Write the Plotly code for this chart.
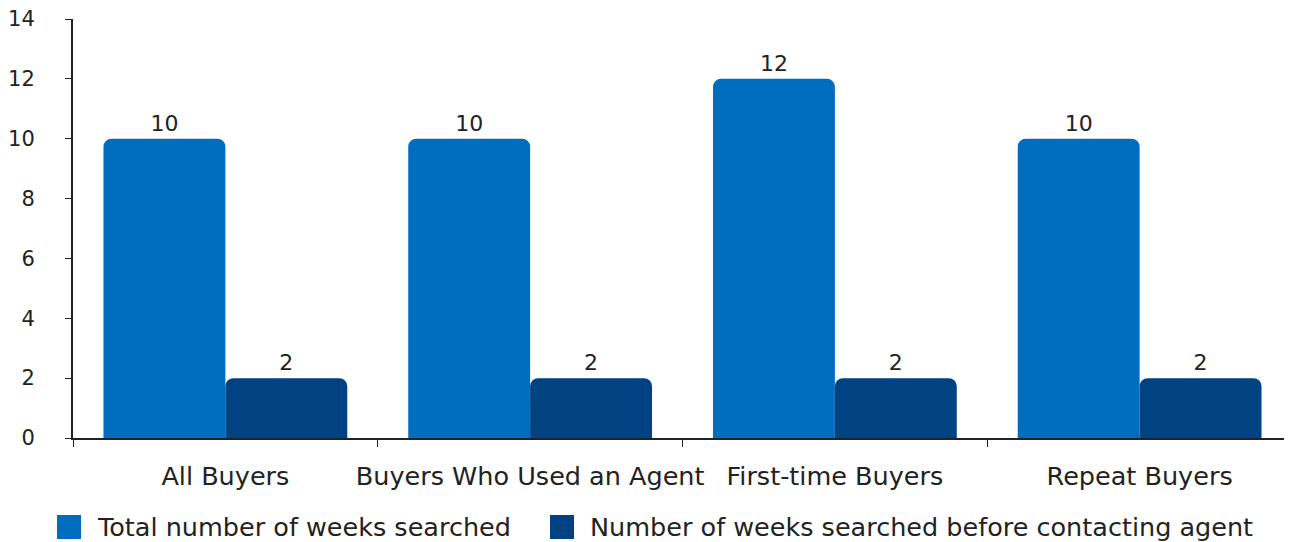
import plotly.graph_objects as go

categories = ["All Buyers", "Buyers Who Used an Agent", "First-time Buyers", "Repeat Buyers"]
total_weeks = [10, 10, 12, 10]
before_agent = [2, 2, 2, 2]
series_names = ["Total number of weeks searched", "Number of weeks searched before contacting agent"]
series_colors = ["#006dbf", "#004282"]
y_ticks = [0, 2, 4, 6, 8, 10, 12, 14]

FONT = "DejaVu Sans"
FS = 25.5
FS_NUM = 22
FS_TICK = 21
TXT = "#222"

# page has an 8px body margin; size the figure so it ends at the window edge
OFF = 8
W, H = 1292 - OFF, 542 - OFF
L, R, T, B = 73 - OFF, 0, 19 - OFF, 542 - 438
pw, ph = W - L - R, H - T - B


def px_x(px):
    return (px - OFF - L) / pw


def px_y(py):
    return (H - B - (py - OFF)) / ph


fig = go.Figure()
for vals, name, col in zip([total_weeks, before_agent], series_names, series_colors):
    fig.add_trace(go.Bar(x=categories, y=vals, name=name,
                         marker=dict(color=col, cornerradius=8, line_width=0),
                         text=vals, textposition="outside", cliponaxis=False,
                         textfont=dict(size=FS_NUM, color=TXT), showlegend=False))

# manual legend with large square swatches
legend_x = [57, 550]
for i, (name, col) in enumerate(zip(series_names, series_colors)):
    x0 = legend_x[i]
    fig.add_shape(type="rect", xref="paper", yref="paper",
                  x0=px_x(x0), x1=px_x(x0 + 24), y0=px_y(539), y1=px_y(515),
                  fillcolor=col, line_width=0)
    fig.add_annotation(xref="paper", yref="paper", x=px_x(x0 + 38), y=px_y(527),
                       xanchor="left", yanchor="middle", text=name, showarrow=False,
                       font=dict(size=FS, color=TXT, family=FONT))

fig.update_layout(
    width=W, height=H,
    margin=dict(l=L, r=R, t=T, b=B, autoexpand=False),
    barmode="group", bargap=0.2, bargroupgap=0,
    plot_bgcolor="white", paper_bgcolor="white",
    font=dict(family=FONT, size=FS, color=TXT),
    showlegend=False,
)
fig.update_yaxes(range=[0, 14], tickvals=y_ticks, showgrid=False, showline=True,
                 linecolor=TXT, linewidth=2, ticks="outside", ticklen=6, tickcolor=TXT,
                 ticklabelstandoff=26, zeroline=False, tickfont=dict(size=FS_TICK),
                 ticklabeloverflow="allow", automargin=False)
fig.update_xaxes(showline=True, linecolor=TXT, linewidth=2, ticks="outside", ticklen=7,
                 tickcolor=TXT, tickson="boundaries", showgrid=False, tickangle=0,
                 ticklabelstandoff=14, tickfont=dict(size=FS), ticklabeloverflow="allow",
                 automargin=False)

fig.write_html("out.html")
